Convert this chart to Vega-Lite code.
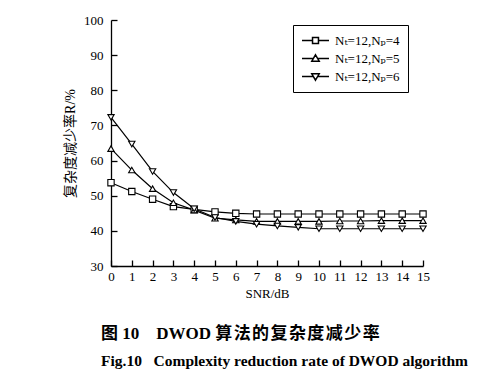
{
  "$schema": "https://vega.github.io/schema/vega-lite/v6.json",
  "width": 312,
  "height": 246,
  "autosize": "none",
  "padding": {"left": 111, "top": 20, "right": 55, "bottom": 116},
  "background": "white",
  "config": {
    "view": {"stroke": null},
    "axis": {
      "grid": false,
      "domainColor": "black",
      "domainWidth": 1.3,
      "tickColor": "black",
      "tickWidth": 1.3,
      "tickSize": -6,
      "labelFont": "Liberation Serif",
      "labelFontSize": 13,
      "labelColor": "black",
      "titleFont": "Liberation Serif, Noto Sans CJK SC",
      "titleFontSize": 13,
      "titleFontWeight": "normal",
      "titleColor": "black"
    }
  },
  "title": {
    "text": "图 10\u00a0\u00a0\u00a0\u00a0DWOD\u00a0算\u200a法\u200a的\u200a复\u200a杂\u200a度\u200a减\u200a少\u200a率",
    "subtitle": "Fig.10\u00a0\u00a0\u00a0Complexity reduction rate of DWOD algorithm",
    "orient": "bottom",
    "anchor": "start",
    "frame": "group",
    "dx": -10,
    "offset": 26,
    "font": "Liberation Serif, Noto Sans CJK SC",
    "fontSize": 17,
    "fontWeight": "bold",
    "color": "black",
    "subtitleFont": "Liberation Serif",
    "subtitleFontSize": 15.5,
    "subtitleFontWeight": "bold",
    "subtitleColor": "black",
    "subtitlePadding": 11
  },
  "data": {
    "values": [
      {"snr": 0, "R": 53.7, "series": "Nₜ=12,Nₚ=4"},
      {"snr": 1, "R": 51.2, "series": "Nₜ=12,Nₚ=4"},
      {"snr": 2, "R": 49.0, "series": "Nₜ=12,Nₚ=4"},
      {"snr": 3, "R": 46.9, "series": "Nₜ=12,Nₚ=4"},
      {"snr": 4, "R": 46.1, "series": "Nₜ=12,Nₚ=4"},
      {"snr": 5, "R": 45.4, "series": "Nₜ=12,Nₚ=4"},
      {"snr": 6, "R": 45.0, "series": "Nₜ=12,Nₚ=4"},
      {"snr": 7, "R": 44.8, "series": "Nₜ=12,Nₚ=4"},
      {"snr": 8, "R": 44.8, "series": "Nₜ=12,Nₚ=4"},
      {"snr": 9, "R": 44.8, "series": "Nₜ=12,Nₚ=4"},
      {"snr": 10, "R": 44.8, "series": "Nₜ=12,Nₚ=4"},
      {"snr": 11, "R": 44.8, "series": "Nₜ=12,Nₚ=4"},
      {"snr": 12, "R": 44.8, "series": "Nₜ=12,Nₚ=4"},
      {"snr": 13, "R": 44.8, "series": "Nₜ=12,Nₚ=4"},
      {"snr": 14, "R": 44.8, "series": "Nₜ=12,Nₚ=4"},
      {"snr": 15, "R": 44.8, "series": "Nₜ=12,Nₚ=4"},
      {"snr": 0, "R": 63.4, "series": "Nₜ=12,Nₚ=5"},
      {"snr": 1, "R": 57.3, "series": "Nₜ=12,Nₚ=5"},
      {"snr": 2, "R": 52.0, "series": "Nₜ=12,Nₚ=5"},
      {"snr": 3, "R": 48.0, "series": "Nₜ=12,Nₚ=5"},
      {"snr": 4, "R": 45.9, "series": "Nₜ=12,Nₚ=5"},
      {"snr": 5, "R": 43.6, "series": "Nₜ=12,Nₚ=5"},
      {"snr": 6, "R": 43.1, "series": "Nₜ=12,Nₚ=5"},
      {"snr": 7, "R": 42.7, "series": "Nₜ=12,Nₚ=5"},
      {"snr": 8, "R": 42.7, "series": "Nₜ=12,Nₚ=5"},
      {"snr": 9, "R": 42.7, "series": "Nₜ=12,Nₚ=5"},
      {"snr": 10, "R": 42.7, "series": "Nₜ=12,Nₚ=5"},
      {"snr": 11, "R": 42.8, "series": "Nₜ=12,Nₚ=5"},
      {"snr": 12, "R": 42.8, "series": "Nₜ=12,Nₚ=5"},
      {"snr": 13, "R": 42.9, "series": "Nₜ=12,Nₚ=5"},
      {"snr": 14, "R": 42.9, "series": "Nₜ=12,Nₚ=5"},
      {"snr": 15, "R": 42.9, "series": "Nₜ=12,Nₚ=5"},
      {"snr": 0, "R": 72.3, "series": "Nₜ=12,Nₚ=6"},
      {"snr": 1, "R": 64.7, "series": "Nₜ=12,Nₚ=6"},
      {"snr": 2, "R": 56.9, "series": "Nₜ=12,Nₚ=6"},
      {"snr": 3, "R": 50.9, "series": "Nₜ=12,Nₚ=6"},
      {"snr": 4, "R": 46.3, "series": "Nₜ=12,Nₚ=6"},
      {"snr": 5, "R": 43.8, "series": "Nₜ=12,Nₚ=6"},
      {"snr": 6, "R": 42.7, "series": "Nₜ=12,Nₚ=6"},
      {"snr": 7, "R": 41.9, "series": "Nₜ=12,Nₚ=6"},
      {"snr": 8, "R": 41.4, "series": "Nₜ=12,Nₚ=6"},
      {"snr": 9, "R": 41.0, "series": "Nₜ=12,Nₚ=6"},
      {"snr": 10, "R": 40.6, "series": "Nₜ=12,Nₚ=6"},
      {"snr": 11, "R": 40.6, "series": "Nₜ=12,Nₚ=6"},
      {"snr": 12, "R": 40.6, "series": "Nₜ=12,Nₚ=6"},
      {"snr": 13, "R": 40.6, "series": "Nₜ=12,Nₚ=6"},
      {"snr": 14, "R": 40.6, "series": "Nₜ=12,Nₚ=6"},
      {"snr": 15, "R": 40.6, "series": "Nₜ=12,Nₚ=6"}
    ]
  },
  "encoding": {
    "x": {
      "field": "snr", "type": "quantitative",
      "scale": {"domain": [0, 15], "nice": false},
      "axis": {"title": "SNR/dB", "values": [0,1,2,3,4,5,6,7,8,9,10,11,12,13,14,15], "labelPadding": 10, "titlePadding": 4, "labelFlush": false}
    },
    "y": {
      "field": "R", "type": "quantitative",
      "scale": {"domain": [30, 100], "nice": false},
      "axis": {"title": "复杂度减少率R/%", "values": [30,40,50,60,70,80,90,100], "labelPadding": 14, "titlePadding": 6, "titleFontSize": 14, "labelFlush": false}
    }
  },
  "resolve": {"scale": {"shape": "independent"}, "legend": {"shape": "independent"}},
  "layer": [
    {
      "mark": {"type": "line", "color": "black", "strokeWidth": 1.2},
      "encoding": {"detail": {"field": "series"}}
    },
    {
      "mark": {"type": "point", "filled": false, "fill": "white", "stroke": "black", "strokeWidth": 1.1, "opacity": 1, "size": 40},
      "encoding": {
        "shape": {
          "field": "series", "type": "nominal",
          "scale": {"range": ["square", "triangle-up", "triangle-down"]},
          "legend": null
        }
      }
    },
    {
      "transform": [{"filter": "false"}],
      "mark": {"type": "point", "filled": false, "fill": "white", "stroke": "black", "strokeWidth": 1.2, "opacity": 1},
      "encoding": {
        "shape": {
          "field": "series", "type": "nominal",
          "scale": {
            "domain": ["Nₜ=12,Nₚ=4", "Nₜ=12,Nₚ=5", "Nₜ=12,Nₚ=6"],
            "range": ["M-2,0L-0.44,0M0.44,0L2,0M-0.44,-0.44L0.44,-0.44L0.44,0.44L-0.44,0.44Z", "M-2,0L-0.32,0M0.32,0L2,0M0,-0.55L0.55,0.4L-0.55,0.4Z", "M-2,0L-0.32,0M0.32,0L2,0M0,0.55L0.55,-0.4L-0.55,-0.4Z"]
          },
          "legend": {
            "title": null,
            "orient": "none",
            "legendX": 182,
            "legendY": 5,
            "strokeColor": "black",
            "fillColor": "white",
            "padding": 8,
            "rowPadding": 3,
            "symbolSize": 182,
            "symbolOffset": 7,
            "labelOffset": 12,
            "labelFont": "Liberation Serif, DejaVu Serif",
            "labelFontSize": 13,
            "labelColor": "black",
            "encode": {
              "legend": {"update": {"strokeWidth": {"value": 1.3}}},
              "symbols": {"update": {"fill": {"value": "white"}, "stroke": {"value": "black"}, "strokeWidth": {"value": 1.2}, "opacity": {"value": 1}}}
            }
          }
        }
      }
    }
  ]
}
